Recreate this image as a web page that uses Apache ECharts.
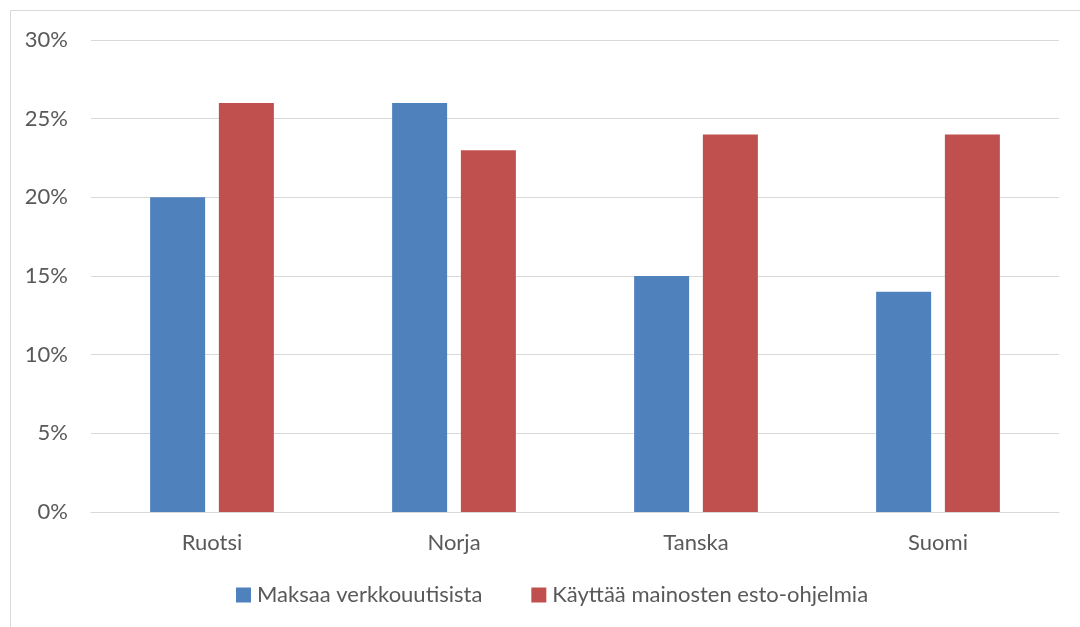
<!DOCTYPE html>
<html><head><meta charset="utf-8">
<script src="https://cdn.jsdelivr.net/npm/echarts@6/dist/echarts.min.js"></script>
<style>html,body{margin:0;padding:0;background:#fff}#c{width:1080px;height:627px}</style>
</head><body><div id="c"></div>
<script>
const categories = ["Ruotsi", "Norja", "Tanska", "Suomi"];
const seriesNames = ["Maksaa verkkouutisista", "Käyttää mainosten esto-ohjelmia"];
const maksaa = [20, 26, 15, 14];
const kayttaa = [26, 23, 24, 24];
const yTicks = [0, 5, 10, 15, 20, 25, 30];

const chart = echarts.init(document.getElementById('c'));
const font = 'Lato, "Open Sans", sans-serif';
chart.setOption({
  animation: false,
  graphic: [{type:'rect', shape:{x:10.5,y:10.5,width:1100,height:700}, style:{fill:'none', stroke:'#D9D9D9', lineWidth:1}}],
  grid: {left: 91, right: 21, top: 40, bottom: 115, containLabel: false},
  legend: {
    top: 584, left: 236, itemWidth: 15, itemHeight: 15, itemGap: 49, padding: 0,
    icon: 'rect',
    textStyle: {fontFamily: font, fontSize: 22, color: '#595959', padding: [0,0,0,1]},
    data: seriesNames
  },
  xAxis: {
    type: 'category', data: categories,
    axisLine: {lineStyle: {color: '#D9D9D9', width: 1}},
    axisTick: {show: false},
    axisLabel: {fontFamily: font, fontSize: 22, color: '#595959', margin: 20}
  },
  yAxis: {
    type: 'value', min: yTicks[0], max: yTicks[yTicks.length-1], interval: 5,
    axisLine: {show: false}, axisTick: {show: false},
    splitLine: {lineStyle: {color: '#D9D9D9', width: 1}},
    axisLabel: {fontFamily: font, fontSize: 22, color: '#595959', margin: 23, formatter: v => v + '%'}
  },
  series: [
    {name: seriesNames[0], type: 'bar', data: maksaa, barWidth: 55, barGap: '25%', itemStyle: {color: '#4F81BD'}},
    {name: seriesNames[1], type: 'bar', data: kayttaa, barWidth: 55, barGap: '25%', itemStyle: {color: '#C0504D'}}
  ]
});
</script></body></html>
